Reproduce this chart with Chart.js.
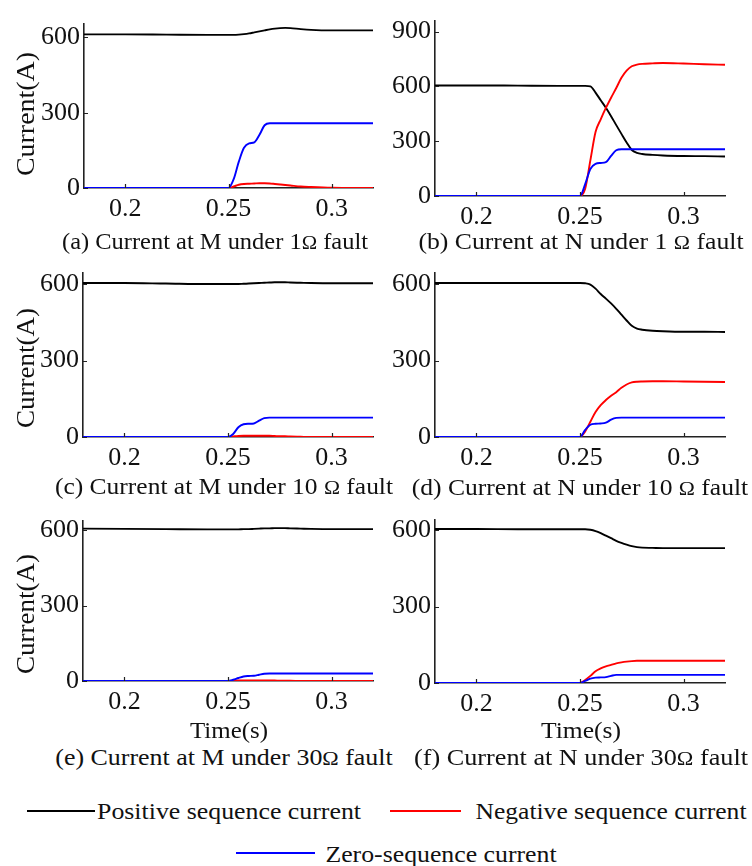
<!DOCTYPE html>
<html><head><meta charset="utf-8">
<script src="https://cdn.jsdelivr.net/npm/chart.js@4.4.0/dist/chart.umd.min.js"></script>
<style>
html,body{margin:0;padding:0;background:#fff;}
#wrap{position:relative;width:752px;height:866px;background:#fff;overflow:hidden;font-family:"Liberation Serif","Times New Roman",serif;color:#111;}
canvas.cv{position:absolute;}
.txt{position:absolute;white-space:nowrap;font-size:23px;line-height:1;transform-origin:center center;}
.big{font-size:25px;}
.om{font-size:0.85em;}
.lg{position:absolute;height:2px;}
</style>
</head><body>
<div id="wrap">
<canvas class="cv" id="pa"></canvas><canvas class="cv" id="pb"></canvas>
<canvas class="cv" id="pc"></canvas><canvas class="cv" id="pd"></canvas>
<canvas class="cv" id="pe"></canvas><canvas class="cv" id="pf"></canvas>

<div class="txt big" data-cx="25" data-cy="114" data-w="124" data-r="-90">Current(A)</div>
<div class="txt big" data-cx="25" data-cy="368" data-w="120" data-r="-90">Current(A)</div>
<div class="txt big" data-cx="25" data-cy="614" data-w="120" data-r="-90">Current(A)</div>
<div class="txt" data-cx="229" data-cy="730" data-w="78">Time(s)</div>
<div class="txt" data-cx="581" data-cy="730" data-w="80">Time(s)</div>

<div class="txt" data-cx="215" data-cy="241" data-w="306">(a) Current at M under 1<span class="om">Ω</span> fault</div>
<div class="txt" data-cx="580.5" data-cy="241" data-w="325">(b) Current at N under 1 <span class="om">Ω</span> fault</div>
<div class="txt" data-cx="224" data-cy="486" data-w="338">(c) Current at M under 10 <span class="om">Ω</span> fault</div>
<div class="txt" data-cx="579.5" data-cy="487" data-w="337">(d) Current at N under 10 <span class="om">Ω</span> fault</div>
<div class="txt" data-cx="223.5" data-cy="757" data-w="337">(e) Current at M under 30<span class="om">Ω</span> fault</div>
<div class="txt" data-cx="581" data-cy="757" data-w="334">(f) Current at N under 30<span class="om">Ω</span> fault</div>

<div class="lg" style="left:27px;top:810px;width:68px;background:#000;"></div>
<div class="txt" data-cx="229" data-cy="811" data-w="264">Positive sequence current</div>
<div class="lg" style="left:390px;top:810px;width:71px;background:#ff0000;"></div>
<div class="txt" data-cx="610.5" data-cy="811" data-w="271">Negative sequence current</div>
<div class="lg" style="left:236px;top:852px;width:79px;background:#0000ff;"></div>
<div class="txt" data-cx="440.5" data-cy="854" data-w="231">Zero-sequence current</div>
<div id="probe" style="position:absolute;left:-999px;top:0;font-family:'Liberation Serif';font-size:26px;">0.25 300 600 900</div>
</div>
<script>
// ---------- data ----------
const time = [0.18, 0.20, 0.22, 0.24, 0.25, 0.2525, 0.255, 0.2575, 0.26, 0.2625, 0.265, 0.2675, 0.27, 0.2725, 0.275, 0.2775, 0.28, 0.285, 0.29, 0.30, 0.31, 0.32];
const xTicks = [0.2, 0.25, 0.3];
const yTicks600 = [0, 300, 600];
const yTicks900 = [0, 300, 600, 900];
const seriesNames = ["Positive sequence current", "Negative sequence current", "Zero-sequence current"];

// (a) M, 1 ohm
const posA  = [612, 612, 611, 610, 610, 610, 611, 613, 616, 620, 624, 628, 632, 635, 637, 638, 637, 633, 630, 628, 628, 628];
const negA  = [0, 0, 0, 0, 0, 6, 13, 16, 17, 18, 19, 19, 18, 16, 14, 12, 10, 6, 4, 1, 0, 0];
const zeroA = [0, 0, 0, 0, 0, 35, 105, 160, 178, 182, 212, 250, 258, 258, 258, 258, 258, 258, 258, 258, 258, 258];
// (b) N, 1 ohm
const posB  = [605, 605, 604, 603, 603, 603, 600, 566, 524, 483, 437, 388, 340, 293, 252, 236, 230, 225, 222, 219, 218, 216];
const negB  = [0, 0, 0, 0, 0, 40, 195, 350, 420, 482, 538, 591, 647, 686, 710, 719, 723, 726, 728, 725, 721, 718];
const zeroB = [0, 0, 0, 0, 0, 65, 148, 176, 181, 185, 220, 250, 256, 256, 256, 256, 256, 256, 256, 256, 256, 256];
// (c) M, 10 ohm
const posC  = [604, 604, 602, 600, 600, 600, 600, 601, 602, 603, 604, 605, 606, 607, 607, 607, 606, 605, 604, 603, 603, 603];
const negC  = [0, 0, 0, 0, 0, 2, 4, 5, 5, 5, 5, 5, 5, 4, 3, 3, 2, 1, 0, 0, 0, 0];
const zeroC = [0, 0, 0, 0, 0, 12, 38, 50, 52, 53, 64, 74, 76, 76, 76, 76, 76, 76, 76, 76, 76, 76];
// (d) N, 10 ohm
const posD  = [604, 604, 604, 604, 604, 603, 598, 582, 561, 543, 524, 503, 480, 457, 436, 425, 421, 417, 415, 413, 413, 412];
const negD  = [0, 0, 0, 0, 0, 22, 60, 98, 125, 145, 162, 176, 193, 206, 214, 217, 218, 219, 219, 218, 217, 216];
const zeroD = [0, 0, 0, 0, 0, 28, 48, 52, 53, 56, 68, 75, 76, 76, 76, 76, 76, 76, 76, 76, 76, 76];
// (e) M, 30 ohm
const posE  = [606, 605, 604, 603, 603, 603, 603, 604, 604, 605, 606, 607, 607, 608, 608, 608, 607, 606, 605, 604, 604, 604];
const negE  = [0, 0, 0, 0, 0, 1, 2, 2, 2, 2, 2, 2, 2, 2, 1, 1, 1, 0, 0, 0, 0, 0];
const zeroE = [0, 0, 0, 0, 0, 5, 12, 18, 20, 21, 25, 29, 30, 30, 30, 30, 30, 30, 30, 30, 30, 30];
// (f) N, 30 ohm
const posF  = [604, 604, 603, 603, 603, 603, 601, 596, 588, 578, 568, 558, 550, 543, 537, 533, 531, 530, 529, 529, 529, 529];
const negF  = [0, 0, 0, 0, 0, 12, 28, 46, 57, 65, 71, 77, 81, 84, 86, 87, 87, 87, 87, 87, 87, 87];
const zeroF = [0, 0, 0, 0, 0, 8, 17, 21, 22, 23, 28, 32, 32, 32, 32, 32, 32, 32, 32, 32, 32, 32];

// ---------- text layout (also forces the serif font to load before canvas drawing) ----------
document.querySelectorAll('.txt').forEach(el => {
  const cx = +el.dataset.cx, cy = +el.dataset.cy, w = +el.dataset.w, r = +(el.dataset.r || 0);
  const nat = el.offsetWidth;
  el.style.left = cx + 'px';
  el.style.top = cy + 'px';
  el.style.transform = `translate(-50%,-50%) rotate(${r}deg) scaleX(${(w / nat).toFixed(3)})`;
});
document.getElementById('probe').offsetWidth;

// ---------- charts ----------
const FONT = "'Liberation Serif', 'Times New Roman', serif";
Chart.defaults.font.family = FONT;
const colors = ['#000000', '#ff0000', '#0000ff'];
const innerTicks = {
  id: 'innerTicks',
  afterDraw(chart) {
    const {ctx, chartArea: a} = chart;
    const x = chart.scales.x, y = chart.scales.y;
    ctx.save();
    ctx.strokeStyle = '#222';
    ctx.lineWidth = 1.2;
    ctx.beginPath();
    x.ticks.forEach(t => { const p = Math.round(x.getPixelForValue(t.value)) + 0.5; ctx.moveTo(p, a.bottom); ctx.lineTo(p, a.bottom - 4); });
    y.ticks.forEach(t => { const p = Math.round(y.getPixelForValue(t.value)) + 0.5; ctx.moveTo(a.left, p); ctx.lineTo(a.left + 4, p); });
    ctx.stroke();
    ctx.restore();
  }
};
const charts = [];

function panel(id, box, yMax, yTicks, series) {
  const yW = 58, xH = 44, padT = 12, padR = 4;
  const cv = document.getElementById(id);
  const left = box.l - yW, top = box.t - padT;
  cv.width = box.r + padR - left;
  cv.height = box.b + xH - top;
  cv.style.left = left + 'px';
  cv.style.top = top + 'px';
  cv.style.width = cv.width + 'px';
  cv.style.height = cv.height + 'px';
  charts.push(new Chart(cv, {
    type: 'line',
    data: {
      datasets: series.map((vals, i) => ({
        label: seriesNames[i],
        data: time.map((t, k) => ({x: t, y: vals[k]})),
        borderColor: colors[i],
        borderWidth: 1.9,
        pointRadius: 0,
        cubicInterpolationMode: 'monotone',
        fill: false,
        order: 3 - i
      }))
    },
    options: {
      responsive: false,
      animation: false,
      devicePixelRatio: 1,
      layout: {padding: {top: padT, right: padR, left: 0, bottom: 0}},
      plugins: {legend: {display: false}, tooltip: {enabled: false}},
      scales: {
        x: {
          type: 'linear', min: 0.18, max: 0.32,
          afterBuildTicks: s => { s.ticks = xTicks.map(v => ({value: v})); },
          afterFit: s => { s.height = xH; },
          grid: {display: true, drawOnChartArea: false, drawTicks: false},
          border: {display: true, color: '#222', width: 1.6},
          ticks: {font: {family: FONT, size: 26}, color: '#111', padding: 6, maxRotation: 0, autoSkip: false,
                  callback: v => String(v)}
        },
        y: {
          type: 'linear', min: 0, max: yMax,
          afterBuildTicks: s => { s.ticks = yTicks.map(v => ({value: v})); },
          afterFit: s => { s.width = yW; },
          grid: {display: true, drawOnChartArea: false, drawTicks: false},
          border: {display: true, color: '#222', width: 1.6},
          ticks: {font: {family: FONT, size: 26}, color: '#111', padding: 4, autoSkip: false,
                  callback: v => String(v)}
        }
      }
    },
    plugins: [innerTicks]
  }));
}

panel('pa', {l: 84, t: 16, r: 373, b: 188}, 655, yTicks600, [posA, negA, zeroA]);
panel('pb', {l: 435, t: 13, r: 725, b: 196}, 960, yTicks900, [posB, negB, zeroB]);
panel('pc', {l: 83, t: 265, r: 373, b: 437}, 645, yTicks600, [posC, negC, zeroC]);
panel('pd', {l: 435, t: 265, r: 725, b: 437}, 645, yTicks600, [posD, negD, zeroD]);
panel('pe', {l: 83, t: 513, r: 373, b: 681}, 638, yTicks600, [posE, negE, zeroE]);
panel('pf', {l: 435, t: 512, r: 725, b: 683}, 641, yTicks600, [posF, negF, zeroF]);

if (document.fonts && document.fonts.ready) {
  document.fonts.ready.then(() => charts.forEach(c => c.update('none')));
}
</script>
</body></html>
